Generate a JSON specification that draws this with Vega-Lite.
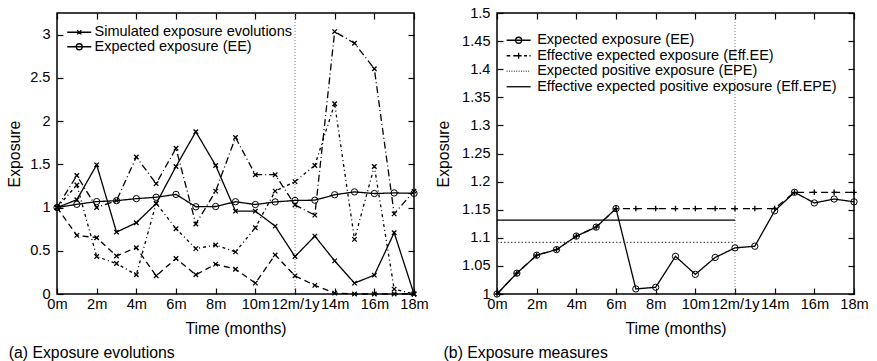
{
  "$schema": "https://vega.github.io/schema/vega-lite/v6.json",
  "background": "white",
  "padding": {"left": 5, "top": 4, "right": 0, "bottom": 0},
  "bounds": "flush",
  "spacing": 83,
  "resolve": {"scale": {"color": "independent", "strokeDash": "independent"}, "legend": {"color": "independent"}},
  "config": {
    "font": "Liberation Sans",
    "view": {"stroke": "black", "strokeWidth": 1.5},
    "axis": {"domain": false, "grid": false, "tickSize": -6, "tickColor": "black", "tickWidth": 1.2, "labelFontSize": 14.6, "labelColor": "black", "labelFont": "Liberation Sans", "titleFont": "Liberation Sans", "titleFontSize": 15.8, "titleFontWeight": "normal", "titleColor": "black", "labelOverlap": false, "labelFlush": false},
    "title": {"fontSize": 15.8, "fontWeight": "normal", "font": "Liberation Sans", "color": "black"}
  },
  "datasets": {
    "left": [
      {"month":0,"value":1,"series":"A","group":"Simulated exposure evolutions"},
      {"month":1,"value":1.09,"series":"A","group":"Simulated exposure evolutions"},
      {"month":2,"value":1.494,"series":"A","group":"Simulated exposure evolutions"},
      {"month":3,"value":0.716,"series":"A","group":"Simulated exposure evolutions"},
      {"month":4,"value":0.824,"series":"A","group":"Simulated exposure evolutions"},
      {"month":5,"value":1.046,"series":"A","group":"Simulated exposure evolutions"},
      {"month":6,"value":1.475,"series":"A","group":"Simulated exposure evolutions"},
      {"month":7,"value":1.877,"series":"A","group":"Simulated exposure evolutions"},
      {"month":8,"value":1.487,"series":"A","group":"Simulated exposure evolutions"},
      {"month":9,"value":0.958,"series":"A","group":"Simulated exposure evolutions"},
      {"month":10,"value":0.958,"series":"A","group":"Simulated exposure evolutions"},
      {"month":11,"value":0.785,"series":"A","group":"Simulated exposure evolutions"},
      {"month":12,"value":0.433,"series":"A","group":"Simulated exposure evolutions"},
      {"month":13,"value":0.67,"series":"A","group":"Simulated exposure evolutions"},
      {"month":14,"value":0.383,"series":"A","group":"Simulated exposure evolutions"},
      {"month":15,"value":0.126,"series":"A","group":"Simulated exposure evolutions"},
      {"month":16,"value":0.218,"series":"A","group":"Simulated exposure evolutions"},
      {"month":17,"value":0.709,"series":"A","group":"Simulated exposure evolutions"},
      {"month":18,"value":0,"series":"A","group":"Simulated exposure evolutions"},
      {"month":0,"value":1,"series":"B","group":"Simulated exposure evolutions"},
      {"month":1,"value":0.678,"series":"B","group":"Simulated exposure evolutions"},
      {"month":2,"value":0.651,"series":"B","group":"Simulated exposure evolutions"},
      {"month":3,"value":0.44,"series":"B","group":"Simulated exposure evolutions"},
      {"month":4,"value":0.536,"series":"B","group":"Simulated exposure evolutions"},
      {"month":5,"value":0.21,"series":"B","group":"Simulated exposure evolutions"},
      {"month":6,"value":0.41,"series":"B","group":"Simulated exposure evolutions"},
      {"month":7,"value":0.222,"series":"B","group":"Simulated exposure evolutions"},
      {"month":8,"value":0.345,"series":"B","group":"Simulated exposure evolutions"},
      {"month":9,"value":0.287,"series":"B","group":"Simulated exposure evolutions"},
      {"month":10,"value":0.126,"series":"B","group":"Simulated exposure evolutions"},
      {"month":11,"value":0.452,"series":"B","group":"Simulated exposure evolutions"},
      {"month":12,"value":0.21,"series":"B","group":"Simulated exposure evolutions"},
      {"month":13,"value":0.1,"series":"B","group":"Simulated exposure evolutions"},
      {"month":14,"value":0.01,"series":"B","group":"Simulated exposure evolutions"},
      {"month":15,"value":0,"series":"B","group":"Simulated exposure evolutions"},
      {"month":16,"value":0,"series":"B","group":"Simulated exposure evolutions"},
      {"month":17,"value":0,"series":"B","group":"Simulated exposure evolutions"},
      {"month":18,"value":0,"series":"B","group":"Simulated exposure evolutions"},
      {"month":0,"value":1,"series":"C","group":"Simulated exposure evolutions"},
      {"month":1,"value":1.26,"series":"C","group":"Simulated exposure evolutions"},
      {"month":2,"value":0.433,"series":"C","group":"Simulated exposure evolutions"},
      {"month":3,"value":0.352,"series":"C","group":"Simulated exposure evolutions"},
      {"month":4,"value":0.222,"series":"C","group":"Simulated exposure evolutions"},
      {"month":5,"value":1.05,"series":"C","group":"Simulated exposure evolutions"},
      {"month":6,"value":0.755,"series":"C","group":"Simulated exposure evolutions"},
      {"month":7,"value":0.525,"series":"C","group":"Simulated exposure evolutions"},
      {"month":8,"value":0.567,"series":"C","group":"Simulated exposure evolutions"},
      {"month":9,"value":0.487,"series":"C","group":"Simulated exposure evolutions"},
      {"month":10,"value":0.766,"series":"C","group":"Simulated exposure evolutions"},
      {"month":11,"value":1.19,"series":"C","group":"Simulated exposure evolutions"},
      {"month":12,"value":1.3,"series":"C","group":"Simulated exposure evolutions"},
      {"month":13,"value":1.487,"series":"C","group":"Simulated exposure evolutions"},
      {"month":14,"value":2.2,"series":"C","group":"Simulated exposure evolutions"},
      {"month":15,"value":0.632,"series":"C","group":"Simulated exposure evolutions"},
      {"month":16,"value":1.475,"series":"C","group":"Simulated exposure evolutions"},
      {"month":17,"value":0.057,"series":"C","group":"Simulated exposure evolutions"},
      {"month":18,"value":0,"series":"C","group":"Simulated exposure evolutions"},
      {"month":0,"value":1,"series":"F","group":"Simulated exposure evolutions"},
      {"month":1,"value":1.37,"series":"F","group":"Simulated exposure evolutions"},
      {"month":2,"value":1,"series":"F","group":"Simulated exposure evolutions"},
      {"month":3,"value":1.08,"series":"F","group":"Simulated exposure evolutions"},
      {"month":4,"value":1.585,"series":"F","group":"Simulated exposure evolutions"},
      {"month":5,"value":1.276,"series":"F","group":"Simulated exposure evolutions"},
      {"month":6,"value":1.686,"series":"F","group":"Simulated exposure evolutions"},
      {"month":7,"value":0.81,"series":"F","group":"Simulated exposure evolutions"},
      {"month":8,"value":1.19,"series":"F","group":"Simulated exposure evolutions"},
      {"month":9,"value":1.81,"series":"F","group":"Simulated exposure evolutions"},
      {"month":10,"value":1.38,"series":"F","group":"Simulated exposure evolutions"},
      {"month":11,"value":1.38,"series":"F","group":"Simulated exposure evolutions"},
      {"month":12,"value":1.03,"series":"F","group":"Simulated exposure evolutions"},
      {"month":13,"value":0.912,"series":"F","group":"Simulated exposure evolutions"},
      {"month":14,"value":3.035,"series":"F","group":"Simulated exposure evolutions"},
      {"month":15,"value":2.9,"series":"F","group":"Simulated exposure evolutions"},
      {"month":16,"value":2.605,"series":"F","group":"Simulated exposure evolutions"},
      {"month":17,"value":0.927,"series":"F","group":"Simulated exposure evolutions"},
      {"month":18,"value":1.19,"series":"F","group":"Simulated exposure evolutions"},
      {"month":0,"value":1,"series":"EE","group":"Expected exposure (EE)"},
      {"month":1,"value":1.037,"series":"EE","group":"Expected exposure (EE)"},
      {"month":2,"value":1.069,"series":"EE","group":"Expected exposure (EE)"},
      {"month":3,"value":1.079,"series":"EE","group":"Expected exposure (EE)"},
      {"month":4,"value":1.103,"series":"EE","group":"Expected exposure (EE)"},
      {"month":5,"value":1.119,"series":"EE","group":"Expected exposure (EE)"},
      {"month":6,"value":1.152,"series":"EE","group":"Expected exposure (EE)"},
      {"month":7,"value":1.009,"series":"EE","group":"Expected exposure (EE)"},
      {"month":8,"value":1.012,"series":"EE","group":"Expected exposure (EE)"},
      {"month":9,"value":1.067,"series":"EE","group":"Expected exposure (EE)"},
      {"month":10,"value":1.035,"series":"EE","group":"Expected exposure (EE)"},
      {"month":11,"value":1.065,"series":"EE","group":"Expected exposure (EE)"},
      {"month":12,"value":1.082,"series":"EE","group":"Expected exposure (EE)"},
      {"month":13,"value":1.085,"series":"EE","group":"Expected exposure (EE)"},
      {"month":14,"value":1.148,"series":"EE","group":"Expected exposure (EE)"},
      {"month":15,"value":1.181,"series":"EE","group":"Expected exposure (EE)"},
      {"month":16,"value":1.162,"series":"EE","group":"Expected exposure (EE)"},
      {"month":17,"value":1.169,"series":"EE","group":"Expected exposure (EE)"},
      {"month":18,"value":1.164,"series":"EE","group":"Expected exposure (EE)"}
    ],
    "right": [
      {"month":0,"value":1,"series":"EE","group":"Expected exposure (EE)"},
      {"month":1,"value":1.037,"series":"EE","group":"Expected exposure (EE)"},
      {"month":2,"value":1.069,"series":"EE","group":"Expected exposure (EE)"},
      {"month":3,"value":1.079,"series":"EE","group":"Expected exposure (EE)"},
      {"month":4,"value":1.103,"series":"EE","group":"Expected exposure (EE)"},
      {"month":5,"value":1.119,"series":"EE","group":"Expected exposure (EE)"},
      {"month":6,"value":1.152,"series":"EE","group":"Expected exposure (EE)"},
      {"month":7,"value":1.009,"series":"EE","group":"Expected exposure (EE)"},
      {"month":8,"value":1.012,"series":"EE","group":"Expected exposure (EE)"},
      {"month":9,"value":1.067,"series":"EE","group":"Expected exposure (EE)"},
      {"month":10,"value":1.035,"series":"EE","group":"Expected exposure (EE)"},
      {"month":11,"value":1.065,"series":"EE","group":"Expected exposure (EE)"},
      {"month":12,"value":1.082,"series":"EE","group":"Expected exposure (EE)"},
      {"month":13,"value":1.085,"series":"EE","group":"Expected exposure (EE)"},
      {"month":14,"value":1.148,"series":"EE","group":"Expected exposure (EE)"},
      {"month":15,"value":1.181,"series":"EE","group":"Expected exposure (EE)"},
      {"month":16,"value":1.162,"series":"EE","group":"Expected exposure (EE)"},
      {"month":17,"value":1.169,"series":"EE","group":"Expected exposure (EE)"},
      {"month":18,"value":1.164,"series":"EE","group":"Expected exposure (EE)"},
      {"month":0,"value":1,"series":"EffEE","group":"Effective expected exposure (Eff.EE)"},
      {"month":1,"value":1.037,"series":"EffEE","group":"Effective expected exposure (Eff.EE)"},
      {"month":2,"value":1.069,"series":"EffEE","group":"Effective expected exposure (Eff.EE)"},
      {"month":3,"value":1.079,"series":"EffEE","group":"Effective expected exposure (Eff.EE)"},
      {"month":4,"value":1.103,"series":"EffEE","group":"Effective expected exposure (Eff.EE)"},
      {"month":5,"value":1.119,"series":"EffEE","group":"Effective expected exposure (Eff.EE)"},
      {"month":6,"value":1.152,"series":"EffEE","group":"Effective expected exposure (Eff.EE)"},
      {"month":7,"value":1.152,"series":"EffEE","group":"Effective expected exposure (Eff.EE)"},
      {"month":8,"value":1.152,"series":"EffEE","group":"Effective expected exposure (Eff.EE)"},
      {"month":9,"value":1.152,"series":"EffEE","group":"Effective expected exposure (Eff.EE)"},
      {"month":10,"value":1.152,"series":"EffEE","group":"Effective expected exposure (Eff.EE)"},
      {"month":11,"value":1.152,"series":"EffEE","group":"Effective expected exposure (Eff.EE)"},
      {"month":12,"value":1.152,"series":"EffEE","group":"Effective expected exposure (Eff.EE)"},
      {"month":13,"value":1.152,"series":"EffEE","group":"Effective expected exposure (Eff.EE)"},
      {"month":14,"value":1.152,"series":"EffEE","group":"Effective expected exposure (Eff.EE)"},
      {"month":15,"value":1.181,"series":"EffEE","group":"Effective expected exposure (Eff.EE)"},
      {"month":16,"value":1.181,"series":"EffEE","group":"Effective expected exposure (Eff.EE)"},
      {"month":17,"value":1.181,"series":"EffEE","group":"Effective expected exposure (Eff.EE)"},
      {"month":18,"value":1.181,"series":"EffEE","group":"Effective expected exposure (Eff.EE)"},
      {"month":0,"value":1.092,"series":"EPE","group":"Expected positive exposure (EPE)"},
      {"month":12,"value":1.092,"series":"EPE","group":"Expected positive exposure (EPE)"},
      {"month":0,"value":1.1315,"series":"EffEPE","group":"Effective expected positive exposure (Eff.EPE)"},
      {"month":12,"value":1.1315,"series":"EffEPE","group":"Effective expected positive exposure (Eff.EPE)"}
    ]
  },
  "hconcat": [
    {
      "width": 357, "height": 281,
      "title": {"text": "(a) Exposure evolutions", "orient": "bottom", "anchor": "start", "frame": "bounds", "offset": 10, "dx": 2},
      "layer": [
        {
          "data": {"values": [{"month": 12}]},
          "mark": {"type": "rule", "strokeDash": [1, 2], "color": "#777", "strokeWidth": 1},
          "encoding": {
            "x": {"field": "month", "type": "quantitative", "scale": {"domain": [0, 18], "nice": false},
                  "axis": {"orient": "top", "labels": false, "title": null, "values": [0,2,4,6,8,10,12,14,16,18]}}
          }
        },
        {
          "data": {"name": "left"},
          "mark": {"type": "line", "strokeWidth": 1.3},
          "encoding": {
            "x": {"field": "month", "type": "quantitative", "scale": {"domain": [0, 18], "nice": false},
                  "axis": {"orient": "bottom", "title": "Time (months)", "values": [0,2,4,6,8,10,12,14,16,18], "labelExpr": "datum.value == 12 ? '12m/1y' : datum.value + 'm'", "labelPadding": 8, "titlePadding": 11}},
            "y": {"field": "value", "type": "quantitative", "scale": {"domain": [0, 3.25], "nice": false},
                  "axis": {"orient": "left", "title": "Exposure", "values": [0,0.5,1,1.5,2,2.5,3], "format": "~g", "labelPadding": 13, "titlePadding": 7}},
            "detail": {"field": "series"},
            "strokeDash": {"field": "series", "type": "nominal", "scale": {"domain": ["A","B","C","F","EE"], "range": [[1,0],[6,4],[3,3,1,3],[7,3,1,3],[1,0]]}, "legend": null},
            "color": {"field": "group", "type": "nominal",
                      "scale": {"domain": ["Simulated exposure evolutions", "Expected exposure (EE)"], "range": ["black", "black"]},
                      "legend": {"title": null, "orient": "none", "legendX": 15, "legendY": 12, "padding": 0, "labelFontSize": 14.5, "labelColor": "black", "labelLimit": 0, "symbolSize": 144, "symbolStrokeWidth": 1.3, "rowPadding": -0.5, "labelOffset": 8,
                                 "encode": {"symbols": {"update": {"shape": {"signal": "datum.value == 'Expected exposure (EE)' ? 'M-2,0L2,0M0.5,0A0.5,0.5 0 1 1 -0.5,0A0.5,0.5 0 1 1 0.5,0' : 'M-2,0L2,0M-0.35,-0.35L0.35,0.35M-0.35,0.35L0.35,-0.35'"}, "fill": {"value": "transparent"}, "stroke": {"value": "black"}}}}}}
          }
        },
        {
          "data": {"name": "left"},
          "transform": [{"filter": "datum.series != 'EE'"}],
          "mark": {"type": "point", "shape": "M-1,-1L1,1M-1,1L1,-1", "size": 20, "filled": false, "color": "black", "strokeWidth": 1.3, "opacity": 1},
          "encoding": {
            "x": {"field": "month", "type": "quantitative", "axis": null},
            "y": {"field": "value", "type": "quantitative", "axis": null}
          }
        },
        {
          "data": {"name": "left"},
          "transform": [{"filter": "datum.series == 'EE'"}],
          "mark": {"type": "point", "shape": "circle", "size": 40, "filled": false, "color": "black", "strokeWidth": 1, "opacity": 1},
          "encoding": {
            "x": {"field": "month", "type": "quantitative", "axis": null},
            "y": {"field": "value", "type": "quantitative",
                  "axis": {"orient": "right", "labels": false, "title": null, "values": [0,0.5,1,1.5,2,2.5,3]}}
          }
        }
      ]
    },
    {
      "width": 357, "height": 281,
      "title": {"text": "(b) Exposure measures", "orient": "bottom", "anchor": "start", "frame": "bounds", "offset": 10, "dx": 8},
      "layer": [
        {
          "data": {"values": [{"month": 12}]},
          "mark": {"type": "rule", "strokeDash": [1, 2], "color": "#777", "strokeWidth": 1},
          "encoding": {
            "x": {"field": "month", "type": "quantitative", "scale": {"domain": [0, 18], "nice": false},
                  "axis": {"orient": "top", "labels": false, "title": null, "values": [0,2,4,6,8,10,12,14,16,18]}}
          }
        },
        {
          "data": {"name": "right"},
          "mark": {"type": "line", "strokeWidth": 1.3},
          "encoding": {
            "x": {"field": "month", "type": "quantitative", "scale": {"domain": [0, 18], "nice": false},
                  "axis": {"orient": "bottom", "title": "Time (months)", "values": [0,2,4,6,8,10,12,14,16,18], "labelExpr": "datum.value == 12 ? '12m/1y' : datum.value + 'm'", "labelPadding": 8, "titlePadding": 11}},
            "y": {"field": "value", "type": "quantitative", "scale": {"domain": [1, 1.5], "nice": false},
                  "axis": {"orient": "left", "title": "Exposure", "values": [1,1.05,1.1,1.15,1.2,1.25,1.3,1.35,1.4,1.45,1.5], "format": "~g", "labelPadding": 13, "titlePadding": 10}},
            "detail": {"field": "series"},
            "strokeDash": {"field": "series", "type": "nominal", "scale": {"domain": ["EE","EffEE","EPE","EffEPE"], "range": [[1,0],[7,5],[1.5,2],[1,0]]}, "legend": null},
            "color": {"field": "group", "type": "nominal",
                      "scale": {"domain": ["Expected exposure (EE)", "Effective expected exposure (Eff.EE)", "Expected positive exposure (EPE)", "Effective expected positive exposure (Eff.EPE)"], "range": ["black", "black", "#555", "black"]},
                      "legend": {"title": null, "orient": "none", "legendX": 14.4, "legendY": 20, "padding": 0, "labelFontSize": 14.5, "labelColor": "black", "labelLimit": 0, "symbolSize": 144, "symbolStrokeWidth": 1.3, "rowPadding": 0.5, "labelOffset": 11.3,
                                 "encode": {"symbols": {"update": {"shape": {"signal": "datum.value == 'Expected exposure (EE)' ? 'M-2,0L2,0M0.5,0A0.5,0.5 0 1 1 -0.5,0A0.5,0.5 0 1 1 0.5,0' : datum.value == 'Effective expected exposure (Eff.EE)' ? 'M-2,0L-1.4,0M-0.9,0L-0.35,0M0,-0.5L0,0.5M-0.5,0L0.5,0M0.9,0L1.4,0M1.8,0L2,0' : datum.value == 'Expected positive exposure (EPE)' ? 'M-2,0L-1.85,0M-1.6,0L-1.45,0M-1.2,0L-1.05,0M-0.8,0L-0.65,0M-0.4,0L-0.25,0M0,0L0.15,0M0.4,0L0.55,0M0.8,0L0.95,0M1.2,0L1.35,0M1.6,0L1.75,0' : 'M-2,0L2,0'"}, "fill": {"value": "transparent"}, "stroke": {"signal": "datum.value == 'Expected positive exposure (EPE)' ? '#666' : 'black'"}}}}}}
          }
        },
        {
          "data": {"name": "right"},
          "transform": [{"filter": "datum.series == 'EffEE'"}],
          "mark": {"type": "point", "shape": "M-1,0L1,0M0,-1L0,1", "size": 30, "filled": false, "color": "black", "strokeWidth": 1.3, "opacity": 1},
          "encoding": {
            "x": {"field": "month", "type": "quantitative", "axis": null},
            "y": {"field": "value", "type": "quantitative", "axis": null}
          }
        },
        {
          "data": {"name": "right"},
          "transform": [{"filter": "datum.series == 'EE'"}],
          "mark": {"type": "point", "shape": "circle", "size": 40, "filled": false, "color": "black", "strokeWidth": 1, "opacity": 1},
          "encoding": {
            "x": {"field": "month", "type": "quantitative", "axis": null},
            "y": {"field": "value", "type": "quantitative",
                  "axis": {"orient": "right", "labels": false, "title": null, "values": [1,1.05,1.1,1.15,1.2,1.25,1.3,1.35,1.4,1.45,1.5]}}
          }
        }
      ]
    }
  ]
}
